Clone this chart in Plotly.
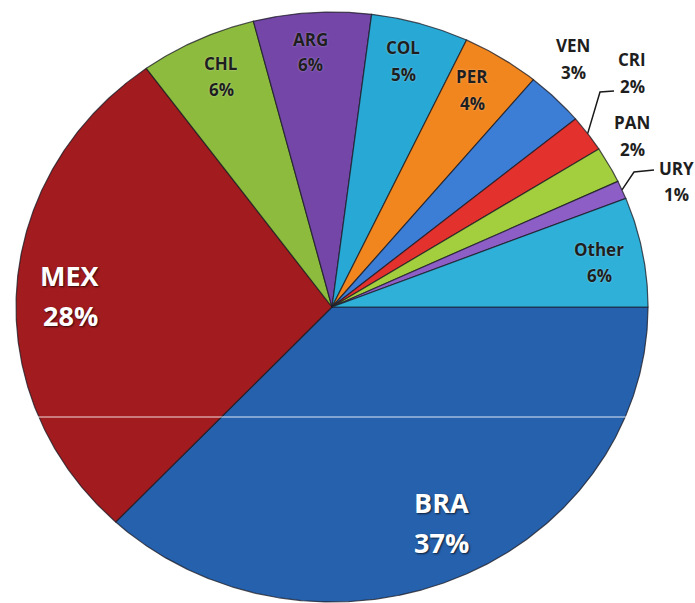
import numpy as np
import plotly.graph_objects as go

# Share of total by country (percent)
countries = ["BRA", "MEX", "CHL", "ARG", "COL", "PER", "VEN", "CRI", "PAN", "URY", "Other"]
shares = [37, 28, 6, 6, 5, 4, 3, 2, 2, 1, 6]
colors = ["#2661ad", "#a21b1f", "#8dbb3e", "#7346a8", "#28a8d4", "#f2861e",
          "#3c7ed6", "#e3312d", "#a3cf3f", "#8c5ec6", "#2eb0d8"]

W, H = 695, 603
CX, CY = 332, 307          # pie centre in pixels
RX, RY = 316, 295          # horizontal / vertical radius in pixels


def to_data(px, py):
    return (px - CX) / RX, (CY - py) / RY


fig = go.Figure()

total = float(sum(shares))
cum = 0.0
mid_angles = {}
for name, v, c in zip(countries, shares, colors):
    a0 = -2 * np.pi * cum / total
    a1 = -2 * np.pi * (cum + v) / total
    mid_angles[name] = (a0 + a1) / 2
    t = np.linspace(a0, a1, max(12, int(v * 10)))
    xs = np.concatenate([[0.0], np.cos(t), [0.0]])
    ys = np.concatenate([[0.0], np.sin(t), [0.0]])
    fig.add_trace(go.Scatter(
        x=xs, y=ys, mode="lines", fill="toself", fillcolor=c,
        line=dict(color="rgba(25,25,35,0.75)", width=1.2),
        name=name, text=f"{name}: {v}%", hoverinfo="text", hoveron="fills",
        showlegend=False,
    ))
    cum += v

# Leader lines for the two thinnest labelled slices
leaders = {
    "CRI": [(600, 92), (614, 91)],
    "URY": [(634, 172), (654, 170)],
}
for name, pts in leaders.items():
    a = mid_angles[name]
    lx = [np.cos(a)] + [to_data(*p)[0] for p in pts]
    ly = [np.sin(a)] + [to_data(*p)[1] for p in pts]
    fig.add_trace(go.Scatter(x=lx, y=ly, mode="lines",
                             line=dict(color="#1a1a1a", width=1.5),
                             hoverinfo="skip", showlegend=False))

# Label block centres (pixels)
label_px = {
    "BRA": (441, 522), "MEX": (70, 295), "CHL": (221, 77), "ARG": (310, 52),
    "COL": (403, 61), "PER": (472, 90), "VEN": (573, 59), "CRI": (632, 73),
    "PAN": (632, 136), "URY": (676, 182), "Other": (599, 262),
}
big = {"BRA", "MEX"}

annotations = []
for name, v in zip(countries, shares):
    px, py = label_px[name]
    if name in big:
        half, size, col = 20, 27, "white"
        shadow = "1px 1px 2px rgba(0,0,0,0.7)"
    else:
        half, size, col = 13, 17, "#1e1e1e"
        shadow = "0px 0px 2px rgba(255,255,255,0.45)"
    for txt, yy in ((name, py - half), (f"{v}%", py + half)):
        annotations.append(dict(
            x=px / W, y=1 - yy / H, xref="paper", yref="paper",
            text=txt, showarrow=False, xanchor="center", yanchor="middle",
            font=dict(family="Open Sans", size=size, color=col,
                      weight="bold", shadow=shadow),
        ))

fig.update_layout(
    width=W, height=H,
    margin=dict(l=0, r=0, t=0, b=0),
    paper_bgcolor="white", plot_bgcolor="white",
    xaxis=dict(range=[-CX / RX, (W - CX) / RX], visible=False, fixedrange=True),
    yaxis=dict(range=[-(H - CY) / RY, CY / RY], visible=False, fixedrange=True),
    annotations=annotations,
    shapes=[dict(type="line", xref="paper", yref="paper",
                 x0=4 / W, x1=1, y0=1 - 417 / H, y1=1 - 417 / H,
                 line=dict(color="rgba(255,255,255,0.85)", width=1))],
    showlegend=False,
)

fig.write_html("out.html")
